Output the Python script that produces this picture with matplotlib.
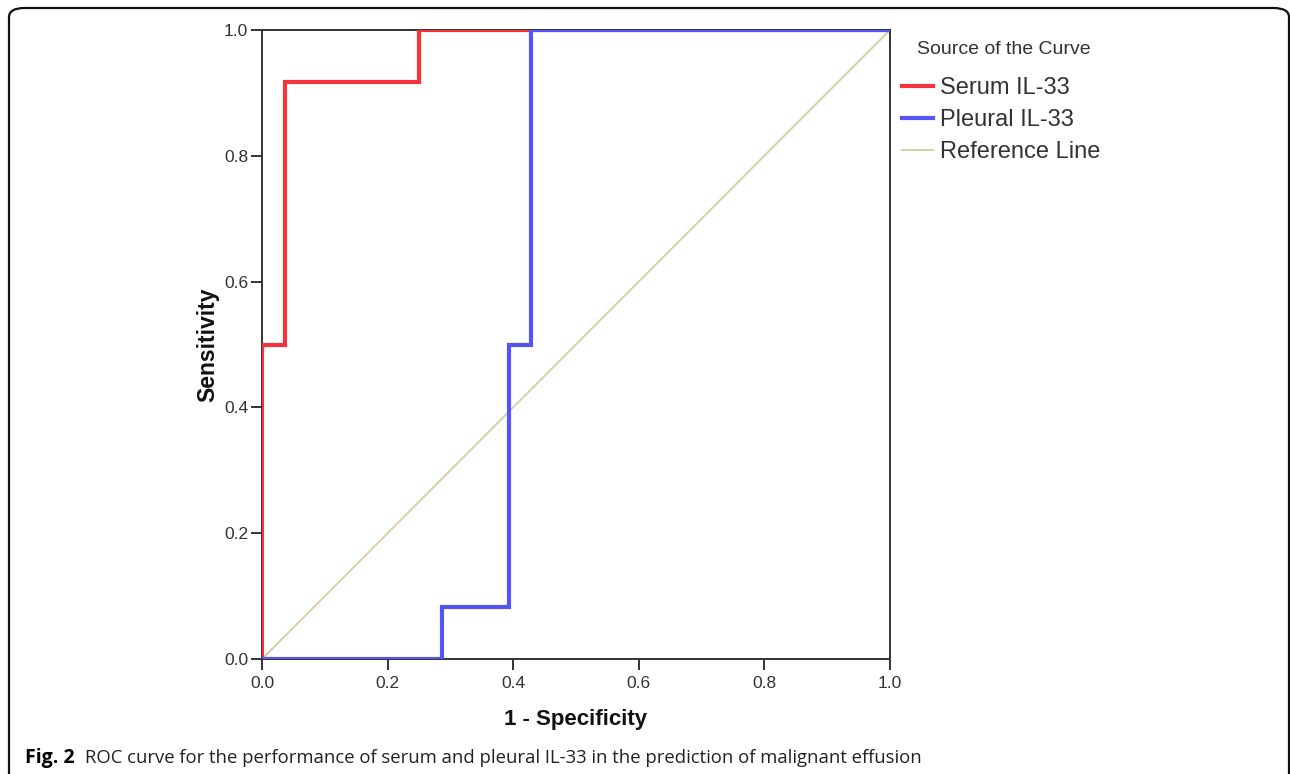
import matplotlib.pyplot as plt
from matplotlib.patches import FancyBboxPatch

# ROC step coordinates (1 - specificity, sensitivity)
serum_fpr = [0.0, 0.0, 0.036, 0.036, 0.25, 0.25, 1.0]
serum_tpr = [0.0, 0.5, 0.5, 0.917, 0.917, 1.0, 1.0]

pleural_fpr = [0.0, 0.286, 0.286, 0.393, 0.393, 0.429, 0.429, 1.0]
pleural_tpr = [0.0, 0.0, 0.083, 0.083, 0.5, 0.5, 1.0, 1.0]

ref_x = [0.0, 1.0]
ref_y = [0.0, 1.0]

ticks = [0.0, 0.2, 0.4, 0.6, 0.8, 1.0]
tick_labels = ["0.0", "0.2", "0.4", "0.6", "0.8", "1.0"]

plt.rcParams["font.family"] = ["Liberation Sans", "DejaVu Sans"]

fig = plt.figure(figsize=(12.9, 7.74), dpi=100)
ax = fig.add_axes([262 / 1290, 1 - 659 / 774, 628 / 1290, 629 / 774])

ax.plot(ref_x, ref_y, color="#d8d0a4", lw=1.4, label="Reference Line", zorder=2)
ax.plot(serum_fpr, serum_tpr, color="#f4333a", lw=3, label="Serum IL-33", zorder=3,
        solid_joinstyle="miter")
ax.plot(pleural_fpr, pleural_tpr, color="#5555f5", lw=3, label="Pleural IL-33", zorder=3,
        solid_joinstyle="miter")

ax.set_xlim(0, 1)
ax.set_ylim(0, 1)
ax.set_xticks(ticks)
ax.set_xticklabels(tick_labels)
ax.set_yticks(ticks)
ax.set_yticklabels(tick_labels)
ax.tick_params(direction="out", length=8, width=1.4, labelsize=12.5, colors="#333333")
ax.tick_params(axis="y", pad=2)
ax.tick_params(axis="x", pad=4)
for s in ax.spines.values():
    s.set_linewidth(1.4)
    s.set_color("#333333")

ax.set_xlabel("1 - Specificity", fontsize=16, fontweight="bold", labelpad=13, color="#111111")
ax.set_ylabel("Sensitivity", fontsize=16.5, fontweight="bold", labelpad=3, color="#111111")

# legend order as in reference
h, l = ax.get_legend_handles_labels()
order = [1, 2, 0]
leg = ax.legend([h[i] for i in order], [l[i] for i in order],
                loc="upper left", bbox_to_anchor=(1.004, 0.94), frameon=False,
                fontsize=17, handlelength=1.3, handletextpad=0.3,
                labelspacing=0.42, borderaxespad=0, labelcolor="#333333")
fig.text(917 / 1290, 1 - 50 / 774, "Source of the Curve", fontsize=14,
         color="#333333", va="center")

# caption
fig.text(25 / 1290, 1 - 758 / 774, "Fig. 2", fontsize=14, fontweight="bold",
         family=["Open Sans", "DejaVu Sans"], va="center")
fig.text(85 / 1290, 1 - 758 / 774,
         "ROC curve for the performance of serum and pleural IL-33 in the prediction of malignant effusion",
         fontsize=13.3, family=["Open Sans", "DejaVu Sans"], va="center", color="#222222")

# rounded frame around the figure
box = FancyBboxPatch((9 / 1290, -0.05), 1280 / 1290, 1.05 - 8 / 774,
                     boxstyle="round,pad=0,rounding_size=0.012",
                     transform=fig.transFigure, fill=False, lw=1.6, ec="#111111")
fig.patches.append(box)

fig.savefig("out.png", dpi=100)
